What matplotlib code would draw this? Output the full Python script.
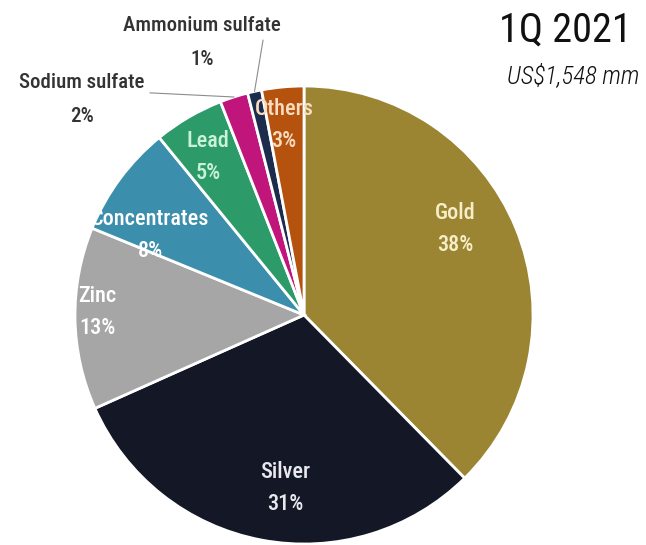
import numpy as np
import matplotlib
matplotlib.use("Agg")
import matplotlib.pyplot as plt

plt.rcParams['font.family'] = ['Roboto Condensed', 'Noto Sans', 'DejaVu Sans']
plt.rcParams['font.stretch'] = 'condensed'

# revenue mix by product
products = ["Gold", "Silver", "Zinc", "Concentrates", "Lead",
            "Sodium sulfate", "Ammonium sulfate", "Others"]
shares = [38, 31, 13, 8, 5, 2, 1, 3]
colors = ["#9b8532", "#141826", "#a6a6a6", "#3b8fac", "#2d9a6a",
          "#c0157a", "#1c2c4c", "#b4520e"]
text_colors = ["#f6eec8", "#e8e8ee", "#ffffff", "#ffffff", "#c9f2d8",
               None, None, "#f8dcc0"]
# label centres, in pie radius units
label_pos = [(0.66, 0.376), (-0.083, -0.755), (-0.904, 0.013), (-0.672, 0.349),
             (-0.419, 0.69), (-0.969, 0.94), (-0.445, 1.19), (-0.087, 0.83)]
outside = {"Sodium sulfate": (-0.672, 0.97), "Ammonium sulfate": (-0.179, 1.2)}

fig = plt.figure(figsize=(6.46, 5.45), dpi=100)
ax = fig.add_axes([0.1161, 0.0018, 0.709, 0.8404])

wedges, _ = ax.pie(shares, colors=colors, startangle=90, counterclock=False,
                   radius=1, wedgeprops=dict(edgecolor="white", linewidth=2))
ax.set_xlim(-1, 1)
ax.set_ylim(-1, 1)
ax.set_aspect("equal")

for name, pct, w, tc, (x, y) in zip(products, shares, wedges, text_colors, label_pos):
    label = f"{name}\n{pct}%"
    if name in outside:
        ax.text(x, y, label, ha="center", va="center", fontsize=15,
                fontweight="medium", color="#333333", linespacing=2.0)
        # leader line from the slice edge to the label
        mid = np.deg2rad((w.theta1 + w.theta2) / 2)
        lx, ly = outside[name]
        ax.plot([lx, np.cos(mid)], [ly, np.sin(mid)], color="#8c8c8c",
                lw=0.8, clip_on=False)
    else:
        ax.text(x, y, label, ha="center", va="center", fontsize=16,
                fontweight="medium", color=tc, linespacing=1.6)

fig.text(632 / 646, 1 - 30 / 545, "1Q 2021", ha="right", va="center",
         fontsize=29, color="#111111")
fig.text(639 / 646, 1 - 76 / 545, "US$1,548 mm", ha="right", va="center",
         fontsize=18, style="italic", fontweight="light", color="#111111")

fig.savefig("out.png", dpi=100)
